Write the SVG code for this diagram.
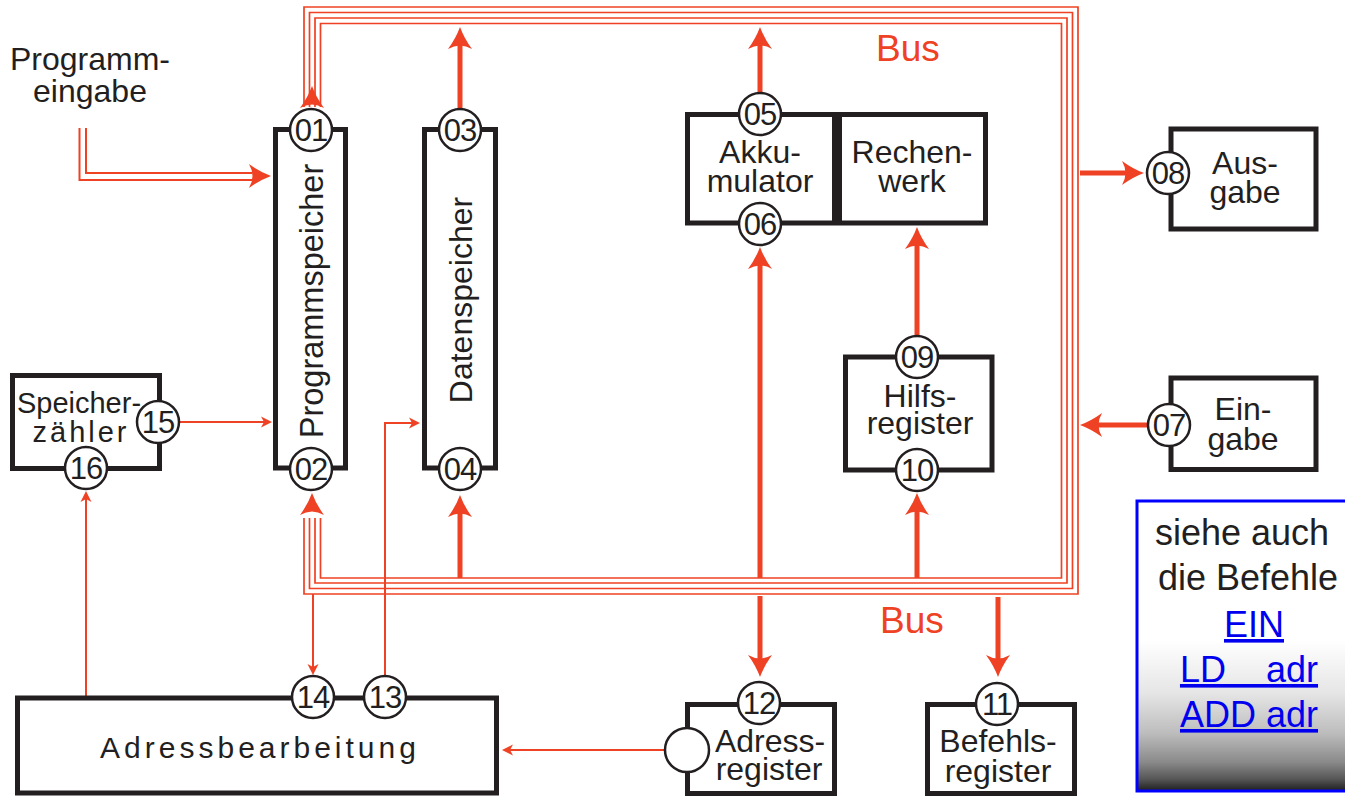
<svg xmlns="http://www.w3.org/2000/svg" xmlns:xlink="http://www.w3.org/1999/xlink" width="1345" height="796" viewBox="0 0 1345 796">
<style>
.box{fill:#fff;stroke:#231f20;stroke-width:5}
.port{fill:#fff;stroke:#231f20;stroke-width:2.5}
.num{font-family:"Liberation Sans",Arial,sans-serif;font-size:31px;fill:#231f20;text-anchor:middle;letter-spacing:-1px}
.lbl{font-family:"Liberation Sans",Arial,sans-serif;font-size:32px;fill:#231f20;text-anchor:middle}
.bus{fill:none;stroke:#ef4123;stroke-width:1.7}
.thick{fill:none;stroke:#ef4123;stroke-width:5}
.thin{fill:none;stroke:#ef4123;stroke-width:2}
.head{fill:#ef4123}
.red{font-family:"Liberation Sans",Arial,sans-serif;font-size:37px;fill:#ef4123;text-anchor:middle}
.note{font-family:"Liberation Sans",Arial,sans-serif;font-size:36px;fill:#231f20;text-anchor:middle}
.link{font-family:"Liberation Sans",Arial,sans-serif;font-size:36px;fill:#0000ee;text-anchor:middle;text-decoration:underline;white-space:pre}
</style>
<defs>
<path id="ahB" d="M0,0 Q4,11 12,22 Q0,15 -12,22 Q-4,11 0,0 Z"/>
<path id="ahS" d="M0,0 L5.5,11 L0,8 L-5.5,11 Z"/>
<linearGradient id="fade" x1="0" y1="0" x2="0" y2="1">
<stop offset="0" stop-color="#fff"/>
<stop offset="0.48" stop-color="#fff"/>
<stop offset="0.66" stop-color="#e6e6e6"/>
<stop offset="0.8" stop-color="#bdbdbd"/>
<stop offset="0.9" stop-color="#8a8a8a"/>
<stop offset="0.96" stop-color="#555"/>
<stop offset="1" stop-color="#1e1e1e"/>
</linearGradient>
</defs>

<g id="connectors">
<path class="bus" d="M304,107 V7 H1078 V594 H304 V518"/>
<path class="bus" d="M309.5,107 V12.5 H1072.5 V588.5 H309.5 V518"/>
<path class="bus" d="M315,107 V18 H1067 V583 H315 V518"/>
<path class="bus" d="M320.5,107 V23.5 H1061.5 V578 H320.5 V518"/>
<use href="#ahB" class="head" transform="translate(312,86)"/>
<use href="#ahB" class="head" transform="translate(312,493)"/>

<path class="thin" d="M79.5,128 V180 H252"/>
<path class="thin" d="M86,128 V173 H252"/>
<use href="#ahB" class="head" transform="translate(271,176) rotate(90)"/>

<path class="thick" d="M460,108 V44"/>
<use href="#ahB" class="head" transform="translate(460,27)"/>
<path class="thick" d="M760,92 V44"/>
<use href="#ahB" class="head" transform="translate(760,27)"/>
<path class="thick" d="M460,578 V512"/>
<use href="#ahB" class="head" transform="translate(460,495)"/>
<path class="thick" d="M760,578 V264"/>
<use href="#ahB" class="head" transform="translate(760,247)"/>
<path class="thick" d="M760,596 V660"/>
<use href="#ahB" class="head" transform="translate(760,677) rotate(180)"/>
<path class="thick" d="M917,578 V510"/>
<use href="#ahB" class="head" transform="translate(917,493)"/>
<path class="thick" d="M917,336 V244"/>
<use href="#ahB" class="head" transform="translate(917,227)"/>
<path class="thick" d="M998,597 V660"/>
<use href="#ahB" class="head" transform="translate(998,677) rotate(180)"/>
<path class="thick" d="M1080,173 H1127"/>
<use href="#ahB" class="head" transform="translate(1144,173) rotate(90)"/>
<path class="thick" d="M1148,425 H1097"/>
<use href="#ahB" class="head" transform="translate(1080,425) rotate(-90)"/>

<path class="thin" d="M179,422 H264"/>
<use href="#ahS" class="head" transform="translate(272,422) rotate(90)"/>
<path class="thin" d="M86,697 V498"/>
<use href="#ahS" class="head" transform="translate(86,491)"/>
<path class="thin" d="M385,676 V423 H412"/>
<use href="#ahS" class="head" transform="translate(420,423) rotate(90)"/>
<path class="thin" d="M313,594 V667"/>
<use href="#ahS" class="head" transform="translate(313,675) rotate(180)"/>
<path class="thin" d="M665,750 H510"/>
<use href="#ahS" class="head" transform="translate(502,750) rotate(-90)"/>
</g>

<g id="programmeingabe">
<text class="lbl" x="90" y="70">Programm-</text>
<text class="lbl" x="90" y="102">eingabe</text>
</g>

<g id="programmspeicher">
<rect class="box" x="275.5" y="129.5" width="70" height="338.5"/>
<text class="lbl" style="font-size:32.5px" transform="translate(322.5,301) rotate(-90)">Programmspeicher</text>
<circle class="port" cx="311" cy="130" r="21"/><text class="num" x="311" y="141">01</text>
<circle class="port" cx="311" cy="469" r="21"/><text class="num" x="311" y="480">02</text>
</g>

<g id="datenspeicher">
<rect class="box" x="424.5" y="129.5" width="71" height="338.5"/>
<text class="lbl" transform="translate(471.5,300) rotate(-90)">Datenspeicher</text>
<circle class="port" cx="460" cy="130" r="21"/><text class="num" x="460" y="141">03</text>
<circle class="port" cx="460" cy="469" r="21"/><text class="num" x="460" y="480">04</text>
</g>

<g id="akkumulator">
<rect class="box" x="687.5" y="114.5" width="147" height="108.5"/>
<text class="lbl" x="760" y="163">Akku-</text>
<text class="lbl" x="760" y="192">mulator</text>
<circle class="port" cx="760" cy="114" r="21"/><text class="num" x="760" y="125">05</text>
<circle class="port" cx="760" cy="224" r="21"/><text class="num" x="760" y="235">06</text>
</g>

<g id="rechenwerk">
<rect class="box" x="839.5" y="114.5" width="146" height="108.5"/>
<text class="lbl" x="912" y="163">Rechen-</text>
<text class="lbl" x="912" y="192">werk</text>
</g>

<g id="ausgabe">
<rect class="box" x="1171" y="129" width="145" height="100"/>
<text class="lbl" x="1245" y="174">Aus-</text>
<text class="lbl" x="1245" y="203">gabe</text>
<circle class="port" cx="1168" cy="173" r="21"/><text class="num" x="1168" y="184">08</text>
</g>

<g id="eingabe">
<rect class="box" x="1171" y="378" width="145" height="91.5"/>
<text class="lbl" x="1243" y="420">Ein-</text>
<text class="lbl" x="1243" y="450">gabe</text>
<circle class="port" cx="1169" cy="425" r="21"/><text class="num" x="1169" y="436">07</text>
</g>

<g id="hilfsregister">
<rect class="box" x="845.5" y="357" width="146.5" height="113"/>
<text class="lbl" x="920" y="407">Hilfs-</text>
<text class="lbl" x="920" y="434">register</text>
<circle class="port" cx="917" cy="357" r="21"/><text class="num" x="917" y="368">09</text>
<circle class="port" cx="917" cy="470" r="21"/><text class="num" x="917" y="481">10</text>
</g>

<g id="speicherzaehler">
<rect class="box" x="12.5" y="375.5" width="147" height="93"/>
<text class="lbl" style="font-size:29px" x="79" y="413">Speicher-</text>
<text class="lbl" style="font-size:29px;letter-spacing:3px" x="81" y="442">zähler</text>
<circle class="port" cx="158" cy="422" r="21"/><text class="num" x="158" y="433">15</text>
<circle class="port" cx="86" cy="468" r="21"/><text class="num" x="86" y="479">16</text>
</g>

<g id="adressbearbeitung">
<rect class="box" x="17.5" y="698" width="479" height="95"/>
<text class="lbl" style="font-size:30px;letter-spacing:4px" x="260" y="758">Adressbearbeitung</text>
<circle class="port" cx="313" cy="697" r="21"/><text class="num" x="313" y="708">14</text>
<circle class="port" cx="385" cy="697" r="21"/><text class="num" x="385" y="708">13</text>
</g>

<g id="adressregister">
<rect class="box" x="687.5" y="704.5" width="147" height="89"/>
<text class="lbl" x="770" y="752">Adress-</text>
<text class="lbl" x="769" y="780">register</text>
<circle class="port" cx="759" cy="703" r="21"/><text class="num" x="759" y="714">12</text>
<circle class="port" cx="687" cy="750" r="22"/>
</g>

<g id="befehlsregister">
<rect class="box" x="927.5" y="704.5" width="147" height="89"/>
<text class="lbl" x="998" y="752">Befehls-</text>
<text class="lbl" x="998" y="782">register</text>
<circle class="port" cx="997" cy="704" r="21"/><text class="num" x="997" y="715">11</text>
</g>

<g id="bus-labels">
<text class="red" x="908" y="61">Bus</text>
<text class="red" x="912" y="633">Bus</text>
</g>

<g id="hinweis">
<rect x="1137" y="501" width="215" height="290" fill="url(#fade)" stroke="#0000ff" stroke-width="3"/>
<text class="note" x="1242" y="545">siehe auch</text>
<text class="note" x="1248" y="590">die Befehle</text>
<text class="link" x="1254" y="637">EIN</text>
<text class="link" x="1249" y="682">LD    adr</text>
<text class="link" x="1249" y="727">ADD adr</text>
</g>
</svg>
